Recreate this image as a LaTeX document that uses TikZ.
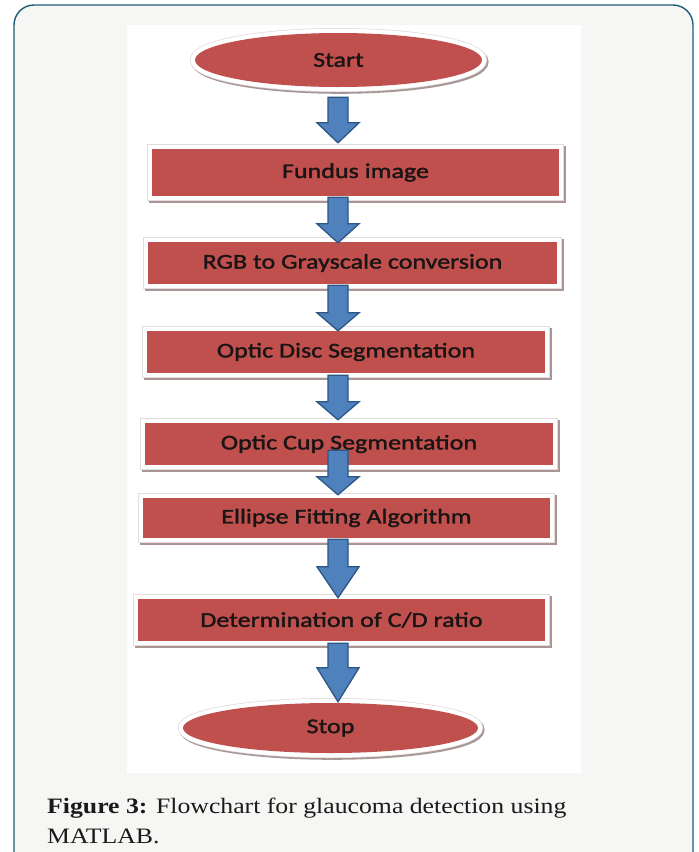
\documentclass[tikz,border=0pt]{standalone}
\usepackage{fontspec}
\usetikzlibrary{calc,shapes.geometric}
\newfontfamily\boxfont[FakeStretch=1.24,FakeBold=1.6]{Carlito}
\newfontfamily\capfont[FakeStretch=1.17]{Liberation Serif}
\definecolor{framec}{HTML}{1F5C75}
\definecolor{pagebg}{HTML}{F6F6F4}
\definecolor{boxred}{HTML}{C0504D}
\definecolor{rimedge}{HTML}{E4DCDC}
\definecolor{shadowc}{HTML}{A89696}
\definecolor{arrowblue}{HTML}{4F81BD}
\definecolor{arrowedge}{HTML}{2C5684}
\definecolor{textc}{HTML}{1A1414}
\definecolor{captext}{HTML}{1A1A1A}
\tikzset{
  bevel/.style={
    preaction={draw=shadowc, line width=10pt, transform canvas={shift={(1.5pt,-1.8pt)}}},
    preaction={draw=rimedge, line width=10pt},
    preaction={draw=white, line width=8.5pt},
    fill=boxred, draw=none, text=textc,
    font=\boxfont\fontsize{21}{24}\selectfont, inner sep=0pt},
  stepbox/.style={bevel, rectangle, minimum width=#1},
  terminal/.style={bevel, ellipse, inner sep=0pt},
  blockarrow/.style={fill=arrowblue, draw=arrowedge, line width=1.3pt, line join=miter},
  caption/.style={anchor=base west, inner sep=0pt, text=captext,
    font=\capfont\fontsize{22}{26}\selectfont},
}
% block arrow: tail point, tip point, head length (pt)
\newcommand\blockarrow[3]{%
  \path[blockarrow] let \p1=(#1), \p2=(#2) in
    (\x2-10pt,\y1) -- (\x2+10pt,\y1) -- (\x2+10pt,\y2+#3pt) -- (\x2+21pt,\y2+#3pt)
    -- (\x2,\y2) -- (\x2-21pt,\y2+#3pt) -- (\x2-10pt,\y2+#3pt) -- cycle;}
\begin{document}
\begin{tikzpicture}[x=1pt,y=-1pt]
  \useasboundingbox (0,0) rectangle (699,852);
  \clip (0,0) rectangle (699,852);
  % page frame and figure panel
  \filldraw[fill=pagebg, draw=framec, line width=1.4pt, rounded corners=20pt]
    (14,5) rectangle (693,872);
  \fill[white] (127,25) rectangle (581,773);

  % flowchart nodes
  \node[terminal, minimum width=287pt, minimum height=54pt] (start) at (338.5,60) {Start};
  \node[stepbox=407pt, minimum height=47pt] (fundus) at (355.5,172.5) {Fundus image};
  \node[stepbox=409pt, minimum height=42pt] (rgb) at (352.5,263) {RGB to Grayscale conversion};
  \node[stepbox=398pt, minimum height=42pt] (disc) at (346,352) {Optic Disc Segmentation};
  \node[stepbox=408pt, minimum height=42pt] (cup) at (349,444) {Optic Cup Segmentation};
  \node[stepbox=407pt, minimum height=40pt] (fit) at (346.5,518) {Ellipse Fitting Algorithm};
  \node[stepbox=407pt, minimum height=42pt] (cd) at (341.5,620) {Determination of C/D ratio};
  \node[terminal, minimum width=295pt, minimum height=50pt] (stop) at (330.5,728) {Stop};

  % arrow axis
  \coordinate (axis) at (338,0);
  \blockarrow{$(start.south -| axis)+(0,10)$}{$(fundus.north -| axis)+(0,-6)$}{20}
  \blockarrow{$(fundus.south -| axis)+(0,1)$}{$(rgb.north -| axis)+(0,1)$}{19}
  \blockarrow{$(rgb.south -| axis)+(0,1)$}{$(disc.north -| axis)+(0,0)$}{18}
  \blockarrow{$(disc.south -| axis)+(0,2)$}{$(cup.north -| axis)+(0,-3)$}{18}
  \blockarrow{$(cup.south -| axis)+(0,-15)$}{$(fit.north -| axis)+(0,-3)$}{18}
  \blockarrow{$(fit.south -| axis)+(0,1)$}{$(cd.north -| axis)+(0,-1)$}{31}
  \blockarrow{$(cd.south -| axis)+(0,2)$}{$(stop.north -| axis)+(0,-1)$}{34}

  % caption
  \node[caption] (cap1) at (47,813)
    {\textbf{Figure 3:} Flowchart for glaucoma detection using};
  \node[caption] (cap2) at (47,843) {MATLAB.};
\end{tikzpicture}
\end{document}
